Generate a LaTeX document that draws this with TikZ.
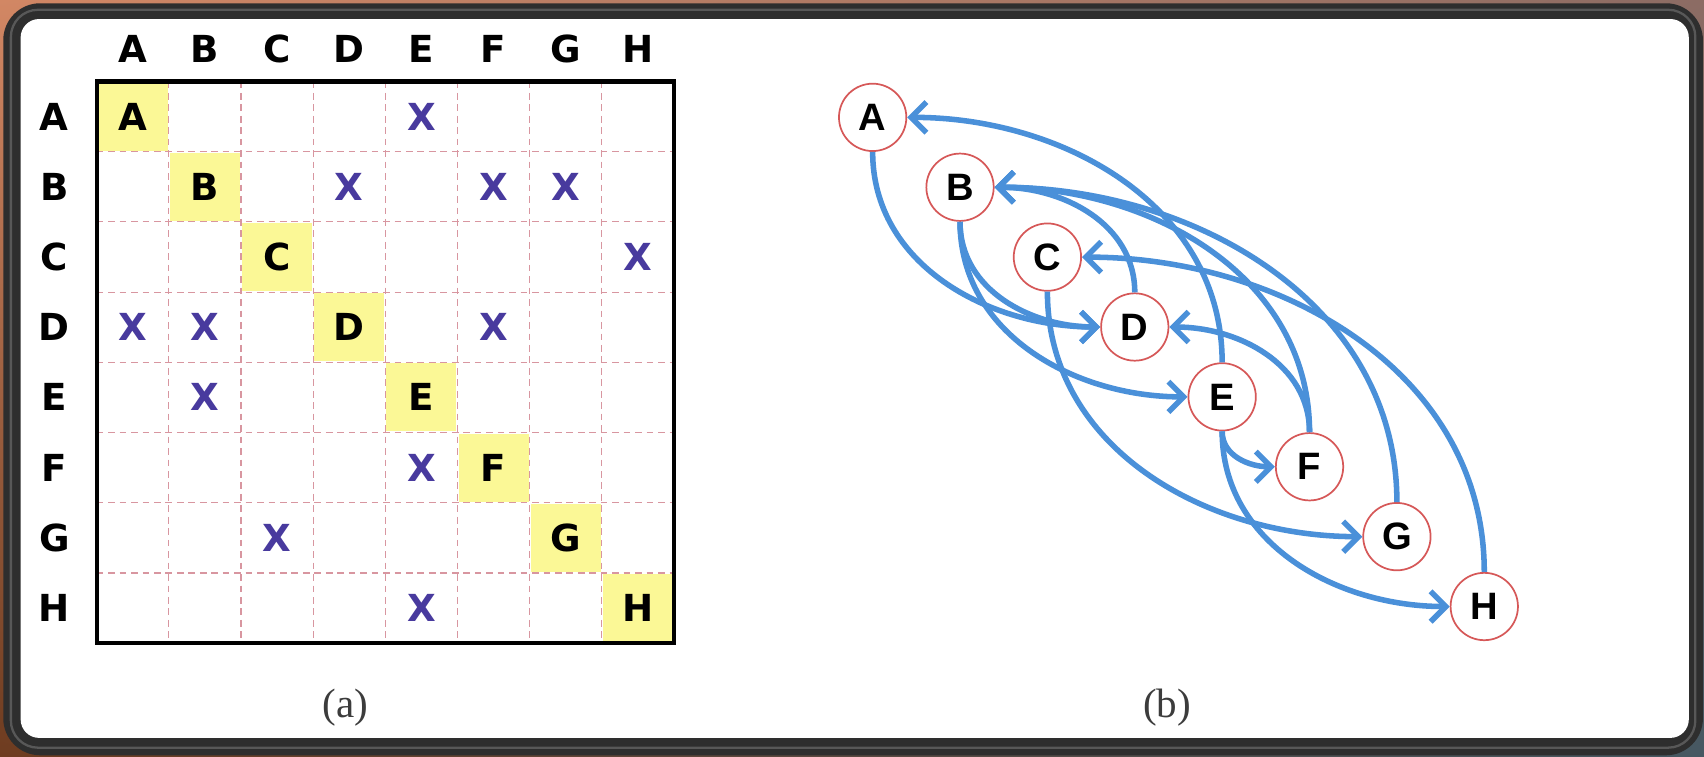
\documentclass[tikz,border=0pt]{standalone}
\usepackage{fontspec}
\setmainfont{Liberation Serif}
\newfontfamily\matfont{DejaVu Sans}
\newfontfamily\graphfont{Liberation Sans}
\usetikzlibrary{arrows.meta,shadings}
\definecolor{xcol}{RGB}{72,58,158}
\definecolor{yel}{RGB}{251,248,150}
\definecolor{gridc}{RGB}{216,150,160}
\definecolor{edgec}{RGB}{74,144,217}
\definecolor{ringc}{RGB}{214,88,88}
\definecolor{framec}{RGB}{46,46,46}
\definecolor{bevelc}{RGB}{88,88,88}
\definecolor{capc}{RGB}{60,60,60}
\definecolor{bgtl}{RGB}{210,135,100}
\definecolor{bgtr}{RGB}{140,108,100}
\definecolor{bgbl}{RGB}{110,60,32}
\definecolor{bgbr}{RGB}{70,88,98}
\tikzset{
  hdr/.style={font=\matfont\bfseries\fontsize{19.5}{21}\selectfont, inner sep=0pt},
  xmark/.style={hdr, text=xcol},
  gridline/.style={gridc, line width=0.6pt, dash pattern=on 3.5pt off 2.5pt},
  gnode/.style={circle, draw=ringc, line width=0.9pt, fill=white, minimum size=1.24cm, inner sep=0pt,
    font=\graphfont\bfseries\fontsize{20}{22}\selectfont},
  link/.style={draw=edgec, line width=2.9pt, -{Straight Barb[length=8pt,width=16pt]}},
  caption/.style={font=\fontsize{21.5}{24}\selectfont, text=capc, inner sep=0pt}
}
\begin{document}
\begin{tikzpicture}[x=0.02cm, y=-0.02cm]
\useasboundingbox (0,0) rectangle (1568,696);
% background and frame
\shade[upper left=bgtl, upper right=bgtr, lower left=bgbl, lower right=bgbr] (0,0) rectangle (1568,696);
\fill[framec, rounded corners=0.68cm] (3,3) rectangle (1567,695);
\draw[bevelc, line width=1.2pt, rounded corners=0.5cm] (10,9) rectangle (1560,688);
\fill[white, rounded corners=0.34cm] (19,17.5) rectangle (1554,679);

% ---------------- matrix (a)
\foreach \L [count=\i from 0] in {A,B,C,D,E,F,G,H} {
  \fill[yel] ({89+66.4*\i+1},{75+64.6*\i+1}) rectangle ++(64.4,62.6);
}
\foreach \i in {1,...,7} {
  \draw[gridline] ({89+66.4*\i},75) -- ({89+66.4*\i},592);
  \draw[gridline] (89,{75+64.6*\i}) -- (620,{75+64.6*\i});
}
\draw[line width=2.2pt] (89,75) rectangle (620,592);
\foreach \L [count=\i from 0] in {A,B,C,D,E,F,G,H} {
  \node[hdr] (col\L) at ({89+66.4*(\i+0.5)},45) {\L};
  \node[hdr] (row\L) at (50,{75+64.6*(\i+0.5)}) {\L};
  \node[hdr] (diag\L) at ({89+66.4*(\i+0.5)},{75+64.6*(\i+0.5)}) {\L};
}
\foreach \c/\r in {4/0,3/1,5/1,6/1,7/2,0/3,1/3,5/3,1/4,4/5,2/6,4/7} {
  \node[xmark] (x\c\r) at ({89+66.4*(\c+0.5)},{75+64.6*(\r+0.5)}) {X};
}
\node[caption] (capa) at (318,651) {(a)};

% ---------------- graph (b)
\node[gnode] (A) at (803,108) {A};
\node[gnode] (B) at (883.4,172.3) {B};
\node[gnode] (C) at (963.8,236.6) {C};
\node[gnode] (D) at (1044.2,300.9) {D};
\node[gnode] (E) at (1124.6,365.2) {E};
\node[gnode] (F) at (1205,429.5) {F};
\node[gnode] (G) at (1285.4,493.8) {G};
\node[gnode] (H) at (1365.8,558.1) {H};

% forward edges
\draw[link] (A.south) to[out=-90,in=180] (D.west);
\draw[link] (B.south) to[out=-90,in=180] (D.west);
\draw[link] (B.south) to[out=-90,in=180] (E.west);
\draw[link] (C.south) to[out=-90,in=180] (G.west);
\draw[link] (E.south) to[out=-90,in=180] (F.west);
\draw[link] (E.south) to[out=-90,in=180] (H.west);
% backward edges
\draw[link] (E.north) to[out=90,in=0] (A.east);
\draw[link] (D.north) to[out=90,in=0] (B.east);
\draw[link] (F.north) to[out=90,in=0] (B.east);
\draw[link] (G.north) to[out=90,in=0] (B.east);
\draw[link] (H.north) to[out=90,in=0] (C.east);
\draw[link] (F.north) to[out=90,in=0] (D.east);

\node[caption] (capb) at (1074,651) {(b)};
\end{tikzpicture}
\end{document}
